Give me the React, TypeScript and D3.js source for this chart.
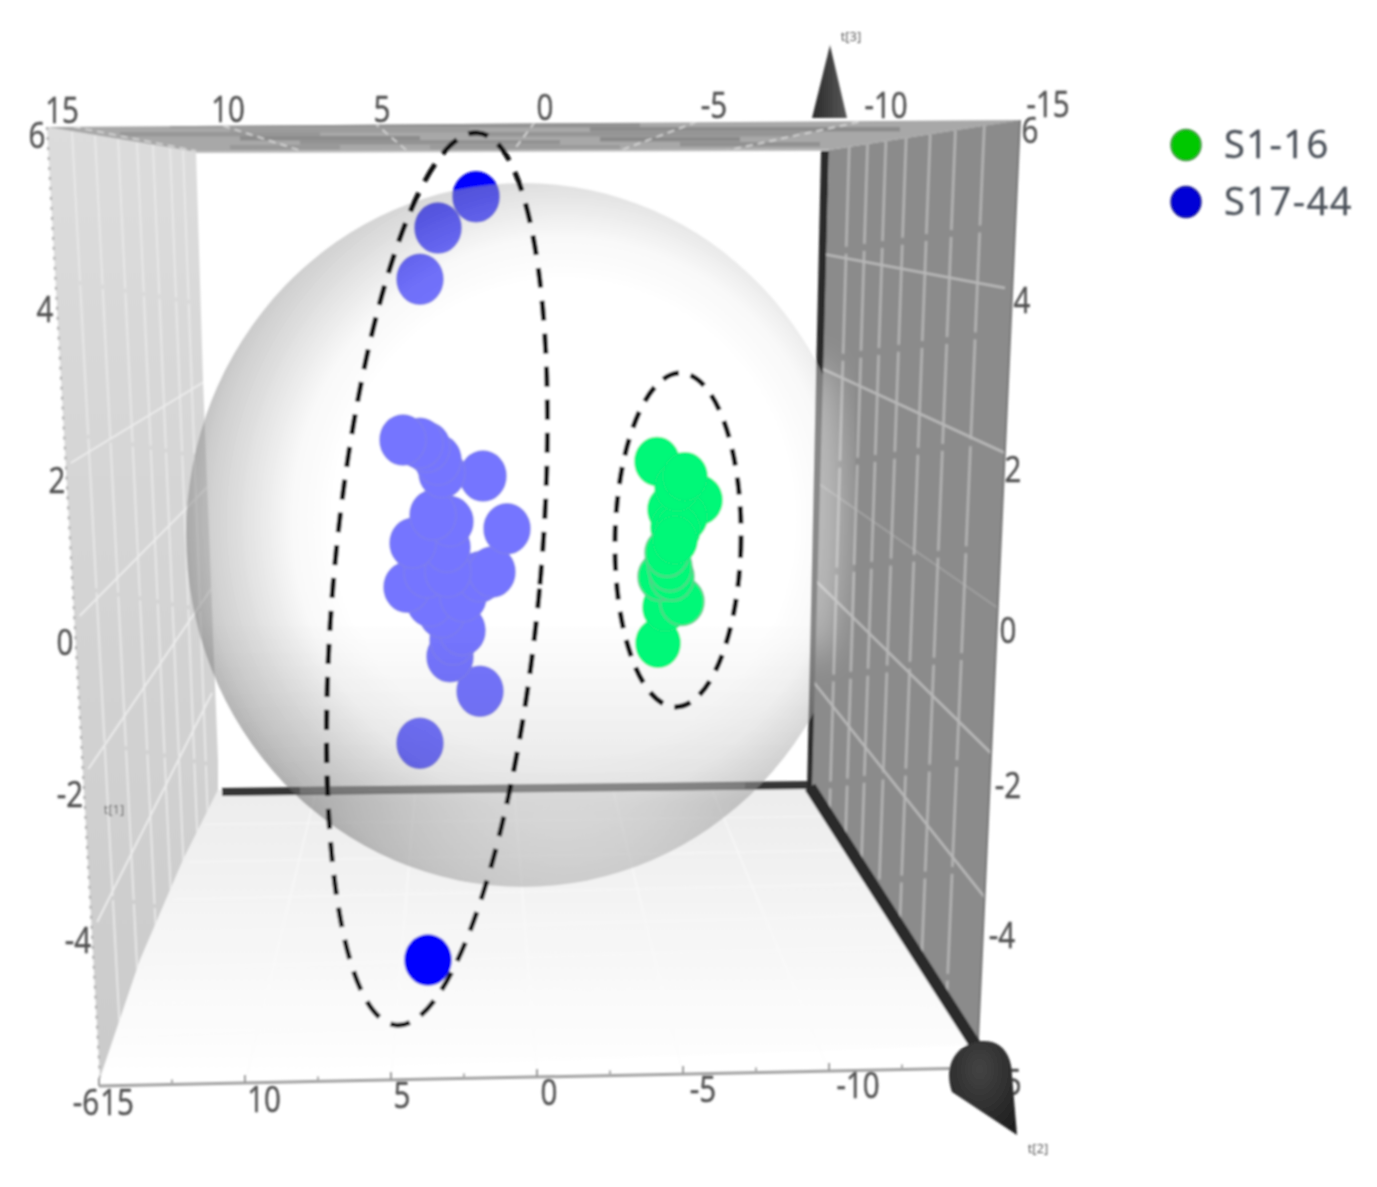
import * as d3 from 'd3'

type Pt = [number, number]

const WIDTH = 1377
const HEIGHT = 1187
const FONT = '"Open Sans", "Noto Sans", sans-serif'
const INK = '#505050'

// scores: t[2] and t[3] of every sample
const greenT2 = [-5.48, -7.2, -6.0, -6.6, -6.12, -6.32, -6.28, -6.6, -5.52, -5.8, -6.48, -5.6, -6.08, -6.0, -5.88, -6.2]
const greenT3 = [1.98, 1.5, 1.38, 1.29, 1.16, 1.13, 1.66, 1.79, -0.29, 0.16, 0.23, 0.54, 0.54, 0.66, 0.84, 1.0]
const blueT2 = [
  3.68, 1.76, 3.28, 4.0, 4.0, 1.6, 2.8, 2.68, 2.32, 3.12, 3.6, 4.52, 2.28, 1.6, 3.72, 1.12, 2.88, 2.92, 4.28, 0.52, 2.8,
  3.48, 1.48, 3.12, 3.28, 3.72, 4.0, 4.68,
]
const blueT3 = [
  -4.25, 5.29, 4.9, 4.26, -1.54, -0.89, -0.46, -0.25, -0.13, 0.09, 0.23, 0.41, 0.29, 0.54, 0.59, 0.6, 0.6, 0.91, 0.96,
  1.14, 1.23, 1.31, 1.8, 1.84, 2.0, 2.16, 2.21, 2.25,
]

const t2Ticks = [15, 10, 5, 0, -5, -10, -15]
const t3Ticks = [6, 4, 2, 0, -2, -4]
const gridT3 = [2, 0, -2, -4]
const gridT3Right = [4, 2, 0, -2, -4]
const minorT2 = [12.5, 7.5, 2.5, -2.5, -7.5, -12.5]
const depthLeft = [0.168, 0.322, 0.477, 0.604, 0.711, 0.826, 0.913]
const depthRight = [0.106, 0.202, 0.298, 0.404, 0.53, 0.662, 0.813]
const floorDepth = [0.12, 0.25, 0.38, 0.5, 0.62, 0.74, 0.86]

const legendNames = ['S1-16', 'S17-44']
const legendColors = ['#00c800', '#0000d6']
const legendStroke = ['#3c8f3c', '#23238f']

// data scales for the samples
const x = d3.scaleLinear().domain([15, -15]).range([145, 895])
const y = d3.scaleLinear().domain([-6, 6]).range([1100, 140])

// box edges on screen
const frontTick = d3.scaleLinear().domain([15, -15]).range([99, 975])
const frontTickY = d3.scaleLinear().domain([15, -15]).range([1086, 1068])
const backFloor = d3.scaleLinear().domain([15, -15]).range([218, 810])
const ceilOuter = d3.scaleLinear().domain([15, -15]).range([50, 1020])
const ceilInner = d3.scaleLinear().domain([15, -15]).range([196, 830])

const leftOuterY = d3.scaleLinear().domain([2, -4]).range([463, 922])
const leftInnerY = d3.scaleLinear().domain([2, -4]).range([377, 693])
const leftOuterX = d3.scaleLinear().domain([6, -6]).range([47, 100])
const rightOuterY = d3.scaleLinear().domain([4, 2, 0, -2, -4]).range([288, 453, 613, 767, 923])
const rightInnerY = d3.scaleLinear().domain([4, 2, 0, -2, -4]).range([260, 372, 487, 585, 688])

// label anchors per tick
const topLabelX = d3.scaleLinear().domain(t2Ticks).range([62, 228, 382, 545, 714, 886, 1048])
const topLabelY = d3.scaleLinear().domain(t2Ticks).range([123, 122, 122, 120, 118, 118, 117])
const botLabelX = d3.scaleLinear().domain(t2Ticks).range([117, 264, 402, 549, 703, 858, 1000])
const botLabelY = d3.scaleLinear().domain(t2Ticks).range([1115, 1112, 1108, 1105, 1102, 1098, 1095])
const leftLabelX = d3.scaleLinear().domain([6, 4, 2, 0, -2, -4, -6]).range([37, 45, 57, 65, 70, 78, 86])
const leftLabelY = d3.scaleLinear().domain([6, 4, 2, 0, -2, -4, -6]).range([148, 322, 493, 655, 807, 953, 1115])
const rightLabelX = d3.scaleLinear().domain(t3Ticks).range([1030, 1022, 1013, 1008, 1008, 1002])
const rightLabelY = d3.scaleLinear().domain(t3Ticks).range([143, 313, 482, 643, 798, 948])

const poly = d3.line<Pt>().curve(d3.curveLinearClosed)
const seg = (a: Pt, b: Pt) => `M${a[0]},${a[1]}L${b[0]},${b[1]}`
const mix = (a: Pt, b: Pt, f: number): Pt => [a[0] + (b[0] - a[0]) * f, a[1] + (b[1] - a[1]) * f]

const leftWall: Pt[] = [[47, 127], [196, 152], [203, 380], [218, 760], [218, 790], [183, 860], [140, 960], [100, 1078]]
const rightWall: Pt[] = [[829, 150], [1020, 120], [978, 1040], [812, 785]]
const ceiling: Pt[] = [[47, 127], [1022, 120], [829, 150], [196, 152]]
const floor: Pt[] = [[218, 790], [810, 785], [978, 1045], [100, 1078], [140, 960], [183, 860]]
const ceilBands: [number, number, number, string][] = [
  [123, 170, 640, '#939393'], [127, 590, 900, '#8c8c8c'], [128, 230, 470, '#9c9c9c'], [132, 120, 320, '#979797'],
  [132, 470, 800, '#959595'], [136, 240, 420, '#8c8c8c'], [137, 600, 740, '#8a8a8a'], [140, 300, 560, '#939393'],
  [142, 680, 820, '#919191'], [145, 230, 340, '#989898'], [145, 430, 620, '#9b9b9b'],
]

function Label({ px, py, text }: { px: number; py: number; text: string }) {
  return (
    <text
      transform={`translate(${px},${py}) scale(0.82,1)`}
      textAnchor="middle"
      fontSize={36}
      fontFamily={FONT}
      fill={INK}
      stroke={INK}
      strokeWidth={0.5}
    >
      {text}
    </text>
  )
}

export default function App() {
  return (
    <svg width={WIDTH} height={HEIGHT} style={{ position: 'absolute', left: 0, top: 0, background: '#fff' }}>
      <defs>
        <filter id="soft" x="-5%" y="-5%" width="110%" height="110%">
          <feGaussianBlur stdDeviation="0.8" />
        </filter>
        <filter id="wide" x="-20%" y="-20%" width="140%" height="140%">
          <feGaussianBlur stdDeviation="16" />
        </filter>
        <linearGradient id="floorFill" x1="0" x2="0" y1="0" y2="1">
          <stop offset="0" stopColor="#ececec" />
          <stop offset="1" stopColor="#ffffff" />
        </linearGradient>
        <linearGradient id="leftFill" x1="0" x2="0" y1="0" y2="1">
          <stop offset="0" stopColor="#dcdcdc" />
          <stop offset="1" stopColor="#cbcbcb" />
        </linearGradient>
        {/* constant alpha, only the tone falls off towards the rim */}
        <radialGradient id="sphereFill" cx="0.56" cy="0.48" r="0.56">
          <stop offset="0" stopColor="#ffffff" stopOpacity="0.46" />
          <stop offset="0.6" stopColor="#ffffff" stopOpacity="0.46" />
          <stop offset="0.72" stopColor="#f0f0f0" stopOpacity="0.46" />
          <stop offset="0.84" stopColor="#c0c0c0" stopOpacity="0.46" />
          <stop offset="0.95" stopColor="#969696" stopOpacity="0.47" />
          <stop offset="1" stopColor="#7a7a7a" stopOpacity="0.48" />
        </radialGradient>
        <linearGradient id="sphereShade" x1="0" x2="0" y1="0" y2="1">
          <stop offset="0.62" stopColor="#000" stopOpacity="0" />
          <stop offset="0.88" stopColor="#000" stopOpacity="0.1" />
          <stop offset="1" stopColor="#000" stopOpacity="0" />
        </linearGradient>
        <linearGradient id="coneUp" x1="0" x2="1" y1="0" y2="0">
          <stop offset="0" stopColor="#2a2a2a" />
          <stop offset="1" stopColor="#585858" />
        </linearGradient>
        <radialGradient id="coneDown" cx="0.45" cy="0.3" r="0.8">
          <stop offset="0" stopColor="#444" />
          <stop offset="1" stopColor="#1d1d1d" />
        </radialGradient>
        <clipPath id="ceilClip">
          <path d={poly(ceiling) ?? ''} />
        </clipPath>
        <clipPath id="wallClip">
          <path d={poly(rightWall) ?? ''} />
        </clipPath>
        <clipPath id="leftClip">
          <path d={poly(leftWall) ?? ''} />
        </clipPath>
      </defs>

      <g filter="url(#soft)">
        {/* floor */}
        <path d={poly(floor) ?? ''} fill="url(#floorFill)" />
        {t2Ticks.slice(1, -1).map((t) => (
          <path
            key={t}
            d={seg([frontTick(t), frontTickY(t)], [backFloor(t), 788])}
            stroke="#fbfbfb"
            strokeWidth={1.5}
            strokeOpacity={0.7}
          />
        ))}
        {floorDepth.map((f) => (
          <path
            key={f}
            d={seg(mix([218, 790], [100, 1078], f), mix([810, 785], [978, 1045], f))}
            stroke="#fbfbfb"
            strokeWidth={1.5}
            strokeOpacity={0.5}
          />
        ))}
        <path d={seg([99, 1086], [975, 1068])} stroke="#a2a2a2" strokeWidth={3} />
        {t2Ticks.map((t) => (
          <path key={t} d={seg([frontTick(t), frontTickY(t)], [frontTick(t), frontTickY(t) - 8])} stroke="#999" strokeWidth={2} />
        ))}
        {minorT2.map((t) => (
          <path key={t} d={seg([frontTick(t), frontTickY(t)], [frontTick(t), frontTickY(t) - 5])} stroke="#aaa" strokeWidth={2} />
        ))}

        {/* left wall */}
        <path d={poly(leftWall) ?? ''} fill="url(#leftFill)" />
        <g clipPath="url(#leftClip)">
          {depthLeft.map((f) => (
            <path
              key={f}
              d={seg(mix([47, 127], [196, 152], f), mix([100, 1078], [218, 790], f))}
              stroke="#e9e9e9"
              strokeWidth={1.8}
              strokeDasharray="150 4"
            />
          ))}
          {gridT3.map((t) => (
            <path key={t} d={seg([leftOuterX(t) + 6, leftOuterY(t)], [212, leftInnerY(t)])} stroke="#ececec" strokeWidth={2} />
          ))}
        </g>
        <path d={seg([47, 127], [100, 1078])} stroke="#a8a8a8" strokeWidth={2} strokeDasharray="3 7" fill="none" />

        {/* back edges */}
        <path d={seg([222, 792], [812, 785])} stroke="#353535" strokeWidth={8} />
        <path d={seg([825, 150], [811, 790])} stroke="#2c2c2c" strokeWidth={8} />

        {/* blue samples stay behind the sphere, it washes them out */}
        {blueT2.map((t, i) => (
          <ellipse key={i} cx={x(t)} cy={y(blueT3[i])} rx={23} ry={25} fill="#0000ff" stroke="#1010e0" strokeWidth={1.5} />
        ))}

        <ellipse cx={523} cy={535} rx={337} ry={352} fill="url(#sphereFill)" />
        <ellipse cx={523} cy={535} rx={337} ry={352} fill="url(#sphereShade)" />
        <path d={seg([300, 790.5], [745, 786])} stroke="#8a8a8a" strokeWidth={7} strokeOpacity={0.55} />

        {/* right wall */}
        <path d={poly(rightWall) ?? ''} fill="#8b8b8b" />
        <g clipPath="url(#wallClip)">
          {depthRight.map((f) => (
            <path
              key={f}
              d={seg(mix([829, 150], [1020, 120], f), mix([812, 785], [978, 1040], f))}
              stroke="#b4b4b4"
              strokeWidth={2.5}
              strokeDasharray="100 7"
            />
          ))}
          {gridT3Right.map((t) => (
            <path
              key={t}
              d={seg([812, rightInnerY(t) - 8], [1005, rightOuterY(t)])}
              stroke="#b8b8b8"
              strokeWidth={t === 0 ? 1.5 : 2.5}
              strokeOpacity={t === 0 ? 0.6 : 1}
            />
          ))}
          {/* the sphere shows faintly through the wall */}
          <ellipse cx={815} cy={510} rx={28} ry={150} fill="#fff" fillOpacity={0.42} filter="url(#wide)" />
        </g>
        <path d={seg([1020, 120], [978, 1040])} stroke="#787878" strokeWidth={2} />

        {/* ceiling */}
        <path d={poly(ceiling) ?? ''} fill="#a8a8a8" />
        <g clipPath="url(#ceilClip)">
          {ceilBands.map(([by, x0, x1, c], i) => (
            <rect key={i} x={x0} y={by} width={x1 - x0} height={4.5} fill={c} />
          ))}
          {t2Ticks.map((t) => (
            <path
              key={t}
              d={seg([ceilOuter(t), 122], [ceilInner(t), 151])}
              stroke="#d4d4d4"
              strokeWidth={1.8}
              strokeDasharray="7 5"
            />
          ))}
        </g>
        <path d={seg([196, 152], [829, 150])} stroke="#c0c0c0" strokeWidth={2} />

        {/* t[2] axis */}
        <path d={seg([810, 787], [985, 1060])} stroke="#2a2a2a" strokeWidth={12} />

        {/* green samples */}
        {greenT2.map((t, i) => (
          <ellipse
            key={i}
            cx={x(t)}
            cy={y(greenT3[i])}
            rx={22}
            ry={24}
            fill="#00f878"
            stroke={i >= 10 && i <= 14 ? '#5fc98f' : '#10ee78'}
            strokeWidth={1.5}
          />
        ))}

        {/* tick labels */}
        {t2Ticks.map((t) => (
          <Label key={t} px={topLabelX(t)} py={topLabelY(t)} text={String(t)} />
        ))}
        {t2Ticks.map((t) => (
          <Label key={t} px={botLabelX(t)} py={botLabelY(t)} text={String(t)} />
        ))}
        {[...t3Ticks, -6].map((t) => (
          <Label key={t} px={leftLabelX(t)} py={leftLabelY(t)} text={String(t)} />
        ))}
        {t3Ticks.map((t) => (
          <Label key={t} px={rightLabelX(t)} py={rightLabelY(t)} text={String(t)} />
        ))}

        {/* axis arrows */}
        <path d="M830,45L847,118L812,118Z" fill="url(#coneUp)" />
        <path
          d="M952,1092C944,1070 952,1044 982,1041C1004,1040 1012,1058 1012,1075L1017,1135Z"
          fill="url(#coneDown)"
        />
        <text x={851} y={41} textAnchor="middle" fontSize={13} fontFamily={FONT} fill={INK}>t[3]</text>
        <text x={114} y={814} textAnchor="middle" fontSize={13} fontFamily={FONT} fill={INK}>t[1]</text>
        <text x={1038} y={1153} textAnchor="middle" fontSize={13} fontFamily={FONT} fill={INK}>t[2]</text>

        {/* grouping ellipses */}
        <ellipse
          cx={437}
          cy={579}
          rx={103}
          ry={448}
          transform="rotate(5.25 437 579)"
          fill="none"
          stroke="#111"
          strokeWidth={5}
          strokeDasharray="20 13"
        />
        <ellipse
          cx={678}
          cy={540}
          rx={63}
          ry={167}
          transform="rotate(0.9 678 540)"
          fill="none"
          stroke="#111"
          strokeWidth={5}
          strokeDasharray="17 12"
        />

        {/* legend */}
        {legendNames.map((name, i) => (
          <g key={name} transform={`translate(1186,${145 + i * 57})`}>
            <ellipse rx={15} ry={15.5} fill={legendColors[i]} stroke={legendStroke[i]} strokeWidth={1.5} />
            <text
              x={38}
              y={13}
              fontSize={38}
              fontFamily={FONT}
              fill="#4a5058"
              stroke="#4a5058"
              strokeWidth={0.4}
              letterSpacing={1.5}
            >
              {name}
            </text>
          </g>
        ))}
      </g>
    </svg>
  )
}
